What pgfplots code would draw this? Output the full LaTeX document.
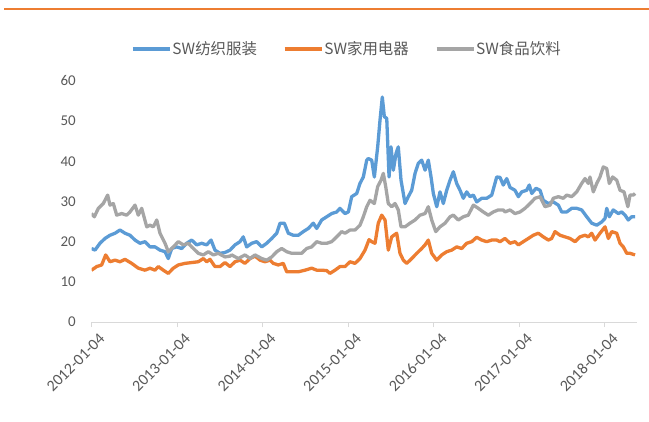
\documentclass[border=0pt]{standalone}
\usepackage{pgfplots}
\pgfplotsset{compat=1.18}
\usepackage{fontspec}
\setmainfont{Carlito}
\newfontfamily\cjk{Noto Sans CJK SC}
\definecolor{cBlue}{HTML}{5B9BD5}
\definecolor{cOrange}{HTML}{ED7D31}
\definecolor{cGray}{HTML}{A5A5A5}
\definecolor{cText}{HTML}{595959}
\definecolor{cAxis}{HTML}{D9D9D9}
\begin{document}
\begin{tikzpicture}[x=1bp,y=1bp]
\useasboundingbox (0,0) rectangle (649,421);
\fill[white] (0,0) rectangle (649,421);
\draw[cOrange, line width=2bp] (4,412) -- (649,412);
\begin{axis}[
  at={(91.5bp,99bp)}, anchor=south west,
  scale only axis, width=545.5bp, height=241bp,
  xmin=0, xmax=6.38, ymin=0, ymax=60,
  axis x line*=bottom, axis y line*=left,
  x axis line style={draw=cAxis, line width=1bp},
  y axis line style={draw=none},
  xtick={0,1,2,3,4,5,6},
  xticklabels={2012-01-04,2013-01-04,2014-01-04,2015-01-04,2016-01-04,2017-01-04,2018-01-04},
  ytick={0,10,20,30,40,50,60},
  xtick align=outside, major tick length=5bp,
  xtick style={draw=cAxis, line width=1bp},
  ytick style={draw=none},
  tick label style={font=\fontsize{15}{15}\selectfont, text=cText},
  /pgf/number format/assume math mode=true,
  xticklabel style={rotate=45, anchor=east, inner sep=0bp, yshift=-14bp, xshift=1bp, font=\fontsize{16}{16}\selectfont},
  yticklabel style={anchor=east, inner sep=0pt, xshift=-15.5bp},
  legend columns=3,
  legend style={draw=none, fill=none, inner sep=0pt, at={(0.0724,1.133)}, anchor=west,
    font=\cjk\fontsize{15.5}{15.5}\selectfont, text=cText,
    nodes={inner sep=1bp},
    /tikz/every even column/.append style={column sep=25bp}},
  legend image code/.code={\draw[#1] (0bp,0bp) -- (37bp,0bp);},
  every axis plot/.append style={line width=3.3bp, line join=round},
]
\addplot[cBlue] table {
0.000 18.3
0.041 17.9
0.099 19.6
0.158 20.8
0.216 21.6
0.275 22.1
0.333 22.9
0.392 22.1
0.450 21.6
0.509 20.4
0.567 19.6
0.626 20.0
0.684 18.7
0.743 18.7
0.801 17.9
0.860 17.5
0.898 15.8
0.938 18.3
0.996 18.7
1.055 18.3
1.113 19.6
1.172 20.4
1.230 19.2
1.289 19.6
1.347 19.2
1.398 20.4
1.444 17.9
1.503 17.1
1.561 17.3
1.620 17.9
1.678 19.2
1.737 20.0
1.775 21.2
1.815 18.7
1.874 19.6
1.932 20.0
1.991 18.7
2.049 19.6
2.108 20.8
2.166 22.1
2.205 24.6
2.255 24.6
2.302 22.1
2.360 21.6
2.419 21.6
2.477 22.5
2.536 23.3
2.594 24.6
2.634 23.3
2.692 25.4
2.751 26.2
2.809 27.0
2.868 27.4
2.906 28.3
2.965 27.0
3.004 27.4
3.043 31.2
3.102 32.0
3.140 34.5
3.179 36.1
3.219 40.3
3.237 40.7
3.277 40.3
3.308 36.1
3.347 43.6
3.374 50.2
3.401 56.0
3.425 51.1
3.453 50.7
3.480 36.1
3.503 43.6
3.530 37.8
3.561 41.9
3.588 43.6
3.620 35.3
3.667 29.5
3.705 31.2
3.745 32.8
3.784 37.0
3.822 39.5
3.862 40.3
3.901 37.8
3.939 40.3
3.971 36.1
3.998 32.0
4.038 28.7
4.076 32.4
4.115 29.5
4.154 32.8
4.193 35.3
4.232 37.4
4.271 34.5
4.310 32.8
4.349 30.8
4.388 32.4
4.427 31.2
4.466 31.6
4.505 29.9
4.564 30.8
4.622 30.8
4.681 31.6
4.739 36.1
4.778 36.0
4.816 34.1
4.856 35.7
4.895 33.5
4.953 32.8
4.992 31.2
5.032 32.4
5.090 32.8
5.120 34.1
5.149 32.0
5.199 33.3
5.246 32.8
5.284 30.3
5.343 29.5
5.401 29.9
5.460 29.1
5.499 27.4
5.558 27.4
5.616 28.3
5.675 28.3
5.733 27.9
5.792 26.2
5.850 24.6
5.909 24.1
5.967 24.9
6.006 25.8
6.026 28.3
6.056 26.2
6.102 27.9
6.161 27.0
6.201 27.4
6.240 26.6
6.278 25.4
6.318 26.2
6.357 26.2
};
\addlegendentry{SW纺织服装}
\addplot[cOrange] table {
0.000 12.9
0.061 13.8
0.119 14.2
0.166 16.7
0.216 15.0
0.275 15.4
0.333 15.0
0.392 15.6
0.470 14.6
0.547 13.4
0.626 12.9
0.684 13.4
0.743 12.9
0.781 13.8
0.840 12.9
0.898 12.1
0.957 13.4
1.015 14.2
1.094 14.6
1.172 14.8
1.249 15.0
1.308 15.8
1.347 15.0
1.386 15.6
1.444 13.8
1.503 13.8
1.561 14.8
1.620 13.8
1.678 15.0
1.737 15.4
1.795 14.6
1.854 15.8
1.912 16.4
1.971 15.4
2.029 15.0
2.088 15.4
2.126 14.6
2.185 14.2
2.243 14.6
2.283 12.5
2.342 12.5
2.419 12.5
2.497 12.9
2.575 13.4
2.634 12.9
2.692 12.9
2.751 12.8
2.789 12.1
2.848 12.9
2.906 13.8
2.965 13.8
3.023 15.0
3.082 14.6
3.140 15.8
3.199 17.9
3.246 20.5
3.277 20.0
3.316 19.6
3.354 24.6
3.394 26.6
3.433 25.4
3.471 17.9
3.511 21.2
3.569 22.1
3.608 17.1
3.647 15.4
3.687 14.6
3.745 15.8
3.804 17.1
3.862 18.3
3.901 19.2
3.939 20.4
3.979 17.1
4.038 15.4
4.096 16.7
4.154 17.5
4.213 17.9
4.271 18.7
4.330 18.3
4.388 19.6
4.447 20.0
4.505 21.1
4.564 20.4
4.622 20.0
4.681 20.4
4.739 20.4
4.778 20.0
4.836 20.8
4.895 19.6
4.953 20.0
4.992 19.2
5.050 20.0
5.109 20.8
5.167 21.6
5.226 22.1
5.284 21.2
5.343 20.4
5.382 20.8
5.421 22.5
5.480 21.6
5.538 21.2
5.596 20.8
5.655 20.0
5.713 21.2
5.772 21.6
5.811 21.2
5.850 22.1
5.889 20.4
5.947 22.1
6.006 23.7
6.045 20.8
6.084 22.5
6.143 22.1
6.181 19.6
6.220 18.7
6.260 17.1
6.298 17.1
6.357 16.7
};
\addlegendentry{SW家用电器}
\addplot[cGray] table {
0.000 27.0
0.033 26.2
0.080 28.3
0.138 29.5
0.189 31.6
0.216 29.1
0.255 29.5
0.295 26.6
0.353 27.0
0.412 26.6
0.450 27.4
0.509 29.1
0.547 26.6
0.587 28.3
0.646 23.7
0.684 24.1
0.723 23.7
0.763 25.4
0.801 22.1
0.860 19.6
0.898 17.5
0.957 18.7
1.015 20.0
1.074 19.2
1.132 19.6
1.172 18.7
1.249 17.1
1.308 16.7
1.366 17.5
1.425 16.7
1.483 17.1
1.561 16.2
1.620 16.4
1.640 16.7
1.717 15.8
1.795 16.7
1.854 15.8
1.912 16.7
1.991 15.8
2.049 15.4
2.108 16.2
2.166 17.5
2.225 18.3
2.283 17.5
2.342 17.1
2.400 17.1
2.458 17.1
2.516 18.3
2.575 18.7
2.634 20.0
2.692 19.6
2.751 19.6
2.809 20.0
2.868 21.2
2.926 22.5
2.965 22.1
3.023 22.9
3.082 22.9
3.140 24.1
3.179 26.2
3.219 28.7
3.257 30.3
3.308 29.5
3.347 33.7
3.386 35.3
3.413 37.0
3.441 33.7
3.471 29.5
3.511 28.7
3.550 29.5
3.588 27.9
3.620 23.7
3.667 23.7
3.725 24.6
3.784 25.4
3.842 26.6
3.901 27.0
3.939 28.7
3.979 25.4
4.026 22.5
4.076 23.7
4.135 24.6
4.193 26.2
4.232 26.6
4.290 25.4
4.349 26.2
4.407 26.6
4.466 29.1
4.524 28.3
4.582 27.4
4.641 26.6
4.699 27.4
4.758 27.9
4.816 27.9
4.836 27.4
4.895 27.9
4.953 27.0
5.012 27.4
5.070 28.3
5.129 29.5
5.187 30.8
5.246 31.2
5.304 28.7
5.363 29.1
5.401 30.8
5.460 31.2
5.518 30.8
5.558 31.6
5.616 31.2
5.675 32.4
5.733 34.5
5.772 35.7
5.811 34.5
5.830 36.1
5.869 32.4
5.909 34.5
5.947 36.1
5.986 38.6
6.026 38.2
6.056 34.5
6.095 36.1
6.143 35.3
6.181 32.8
6.228 32.4
6.273 28.7
6.298 31.6
6.337 31.6
6.357 32.0
};
\addlegendentry{SW食品饮料}
\end{axis}
\end{tikzpicture}
\end{document}
